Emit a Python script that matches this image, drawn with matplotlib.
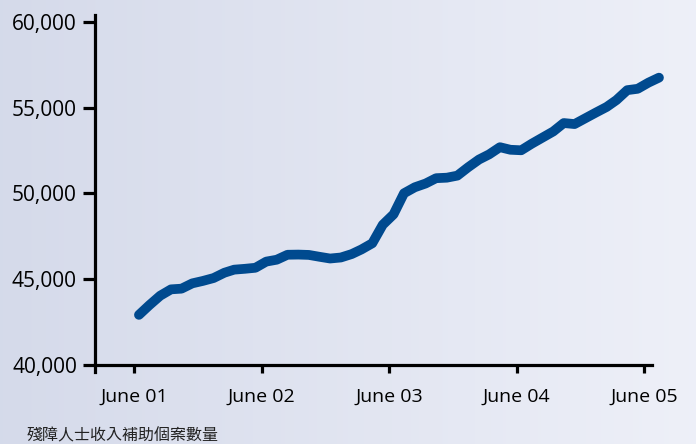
import numpy as np
import pandas as pd
import matplotlib
matplotlib.use("Agg")
import matplotlib.pyplot as plt

plt.rcParams['font.family'] = ['Open Sans', 'Noto Sans CJK TC', 'DejaVu Sans']

# Monthly case counts, June 2001 onwards
cases = [42900, 43470, 44020, 44390, 44430, 44740, 44880, 45050, 45360, 45540,
         45590, 45650, 46010, 46120, 46410, 46420, 46400, 46290, 46190, 46250,
         46450, 46720, 47080, 48160, 48770, 50000, 50350, 50570, 50880, 50910,
         51030, 51520, 51970, 52270, 52690, 52540, 52510, 52890, 53250, 53610,
         54100, 54040, 54370, 54710, 55040, 55440, 56020, 56100, 56460, 56750]
months = pd.date_range('2001-06-01', periods=len(cases), freq='MS') + pd.Timedelta(days=13)

tick_dates = pd.to_datetime(['2001-06-01', '2002-06-01', '2003-06-01', '2004-06-01', '2005-06-01'])
tick_labels = ['June 01', 'June 02', 'June 03', 'June 04', 'June 05']
y_ticks = [40000, 45000, 50000, 55000, 60000]
caption = '殘障人士收入補助個案數量'

fig = plt.figure(figsize=(6.96, 4.44), dpi=100)

# gradient background
bg = fig.add_axes([0, 0, 1, 1], zorder=-10)
left_c = np.array([0.835, 0.855, 0.918])
right_c = np.array([0.933, 0.941, 0.973])
t = np.linspace(0, 1, 256)
grad = left_c[None, :] * (1 - t[:, None]) + right_c[None, :] * t[:, None]
bg.imshow(grad[None, :, :], aspect='auto', extent=[0, 1, 0, 1])
bg.axis('off')

ax = fig.add_axes([95 / 696, 1 - 371.9 / 444, (652 - 95) / 696, (371.9 - 14.8) / 444])
ax.set_facecolor('none')

ax.plot(months, cases, color='#004a8f', linewidth=7, solid_capstyle='round',
        solid_joinstyle='round', clip_on=False)

ax.set_xlim(pd.Timestamp('2001-06-01') - pd.Timedelta(days=113),
            pd.Timestamp('2005-06-01') + pd.Timedelta(days=23))
ax.set_ylim(39570, 60420)

for s in ['top', 'right']:
    ax.spines[s].set_visible(False)
ax.spines['left'].set_linewidth(2.3)
ax.spines['bottom'].set_linewidth(2.3)
ax.spines['bottom'].set_position(('data', 40000))

ax.set_yticks(y_ticks)
ax.set_yticklabels([f'{v:,}' for v in y_ticks])
ax.set_xticks(tick_dates)
ax.set_xticklabels(tick_labels)

ax.tick_params(axis='y', direction='out', length=9, width=2.3, labelsize=15, pad=4)
ax.tick_params(axis='x', direction='out', length=6, width=2.3, labelsize=14, pad=11)

fig.text(27 / 696, 1 - 427 / 444, caption, fontsize=11.5, color='#222222',
         va='top', ha='left', family=['Noto Sans CJK TC', 'DejaVu Sans'])

fig.savefig('out.png', dpi=100)
